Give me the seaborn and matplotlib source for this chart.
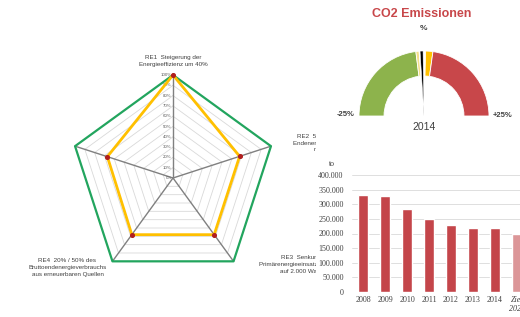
import numpy as np
import pandas as pd
import matplotlib
matplotlib.use('Agg')
import matplotlib.pyplot as plt
from matplotlib.patches import Rectangle
from matplotlib.ticker import FuncFormatter
import seaborn as sns

sns.set_theme(style='white')
plt.rcParams['font.family'] = ['Liberation Sans', 'DejaVu Sans']

# radar data (share of target reached)
radar_cats = ['RE1', 'RE2', 'RE3', 'RE4', 'RE5']
radar_labels = ['RE1  Steigerung der\nEnergieeffizienz um 40%',
                'RE2  50% Senkung des\nEndenergieverbrauchs pro\nneuen Kopf',
                'RE3  Senkung\nPrimärenergieeinsatz pro Kopf\nauf 2.000 Watt',
                'RE4  20% / 50% des\nBruttoendenergieverbrauchs\naus erneuerbaren Quellen',
                '']
radar_target = [1.00, 1.00, 1.00, 1.00, 1.00]
radar_actual = [1.00, 0.68, 0.68, 0.68, 0.67]
radar_ticks = [0.0, 0.1, 0.2, 0.3, 0.4, 0.5, 0.6, 0.7, 0.8, 0.9, 1.0]

# gauge data, scale -25% .. +25%
gauge_bands = [23.0, 0.8, 1.6, 1.8, 22.8]
gauge_colors = ['#8DB34C', '#F4DF8A', '#FFFFFF', '#FFC000', '#C8474A']
gauge_value = -0.6
gauge_year = '2014'

# bar data (CO2 in t)
bar_labels = ['2008', '2009', '2010', '2011', '2012', '2013', '2014', 'Ziel\n2020']
bar_values = [332000, 328000, 284000, 250000, 229000, 220000, 218000, 198000]
bar_colors = ['#C4454A'] * 7 + ['#DC9698']

W, H = 520, 317
fig = plt.figure(figsize=(W / 100, H / 100), dpi=100)


def px_axes(x0, y0, x1, y1):
    return fig.add_axes([x0 / W, 1 - y1 / H, (x1 - x0) / W, (y1 - y0) / H])


# ---------- radar ----------
ax = px_axes(43, 48, 303, 308)
lim = 130 / 103
ax.set_xlim(-lim, lim)
ax.set_ylim(-lim, lim)
ax.axis('off')
ang = np.deg2rad(90 - 72 * np.arange(len(radar_cats)))
ux, uy = np.cos(ang), np.sin(ang)


def closed(v):
    v = np.asarray(v)
    return np.append(v * ux, v[0] * ux[0]), np.append(v * uy, v[0] * uy[0])


for r in radar_ticks[1:]:
    gx, gy = closed([r] * 5)
    ax.plot(gx, gy, color='#D9D9D9', lw=0.6, zorder=1)
for i in range(len(radar_cats)):
    ax.plot([0, ux[i]], [0, uy[i]], color='#808080', lw=1.0, zorder=2)
for r in radar_ticks:
    ax.text(-0.012, r, f'{r:.0%}', ha='right', va='center', fontsize=3.2, color='#595959', zorder=3)

tx, ty = closed(radar_target)
ax.plot(tx, ty, color='#22A55E', lw=1.6, zorder=4)
axx, ayy = closed(radar_actual)
ax.plot(axx, ayy, color='#FFC000', lw=2.0, zorder=5)
ax.scatter(np.array(radar_actual) * ux, np.array(radar_actual) * uy, s=7, color='#B01E1E', zorder=6)

offsets = [(0, 14), (59, 3), (67, -3), (-45, -6), (0, 0)]
for i, lab in enumerate(radar_labels):
    if lab:
        ax.annotate(lab, (ux[i], uy[i]), xytext=offsets[i], textcoords='offset pixels',
                    ha='center', va='center', fontsize=4.5, linespacing=1.45, color='#404040')

# white sheet behind the right hand charts
fig.add_artist(Rectangle((316 / W, 0), 1, 1, transform=fig.transFigure,
                         facecolor='white', edgecolor='none', zorder=1))

# ---------- gauge ----------
gx = px_axes(354, 46, 494, 186)
gx.set_zorder(2)
vals = gauge_bands + [sum(gauge_bands)]
wedges, _ = gx.pie(vals, colors=gauge_colors + ['white'], startangle=180, counterclock=False,
                   radius=1, wedgeprops=dict(width=0.385, edgecolor='white', linewidth=0.6))
wedges[-1].set_visible(False)
half = sum(gauge_bands) / 2
nw = 0.75
start = gauge_value + half - nw / 2
needle_vals = [start, nw, 4 * half - start - nw]
nwedges, _ = gx.pie(needle_vals, colors=['none', 'black', 'none'], startangle=180, counterclock=False,
                    radius=1.0, wedgeprops=dict(edgecolor='white', linewidth=0.4))
nwedges[0].set_visible(False)
nwedges[2].set_visible(False)
glim = 70 / 65
gx.set_xlim(-glim, glim)
gx.set_ylim(-glim, glim)
gx.text(-1.2, 0.03, '-25%', ha='center', va='center', fontsize=5.5, fontweight='bold', color='#404040')
gx.text(1.215, 0.015, '+25%', ha='center', va='center', fontsize=5.5, fontweight='bold', color='#404040')
gx.text(0, -0.17, gauge_year, ha='center', va='center', fontsize=7.5, color='#404040')
gx.text(0, 1.34, '%', ha='center', va='center', fontsize=6, fontweight='bold', color='#404040')
fig.text(422 / W, 1 - 14 / H, 'CO2 Emissionen', ha='center', va='center', fontsize=9,
         fontweight='bold', color='#C8474A')

# ---------- bars ----------
bx = px_axes(352, 175, 528, 292)
bx.set_zorder(2)
bx.patch.set_alpha(0)
df = pd.DataFrame({'Jahr': bar_labels, 'CO2': bar_values})
sns.barplot(data=df, x='Jahr', y='CO2', hue='Jahr', palette=bar_colors, width=0.45,
            legend=False, ax=bx, saturation=1, zorder=3)
bx.set_ylim(0, 400000)
bx.set_xlim(-0.5, 7.5)
bx.set_yticks(range(0, 400001, 50000))
bx.yaxis.set_major_formatter(FuncFormatter(lambda v, p: f'{int(v):,}'.replace(',', '.')))
bx.grid(axis='y', color='#D9D9D9', lw=0.6, zorder=0)
bx.set_axisbelow(True)
for s in bx.spines.values():
    s.set_visible(False)
bx.set_xlabel('')
bx.set_ylabel('')
bx.tick_params(axis='both', length=0, labelsize=5.8, colors='#404040')
bx.tick_params(axis='y', pad=6)
bx.tick_params(axis='x', pad=3)
for t in bx.get_yticklabels() + bx.get_xticklabels():
    t.set_family('Liberation Serif')
bx.get_xticklabels()[-1].set_style('italic')
fig.text(332 / W, 1 - 164 / H, 'to', ha='center', va='center', fontsize=5.6,
         family='Liberation Serif', color='#404040')

fig.savefig('out.png', dpi=100)
